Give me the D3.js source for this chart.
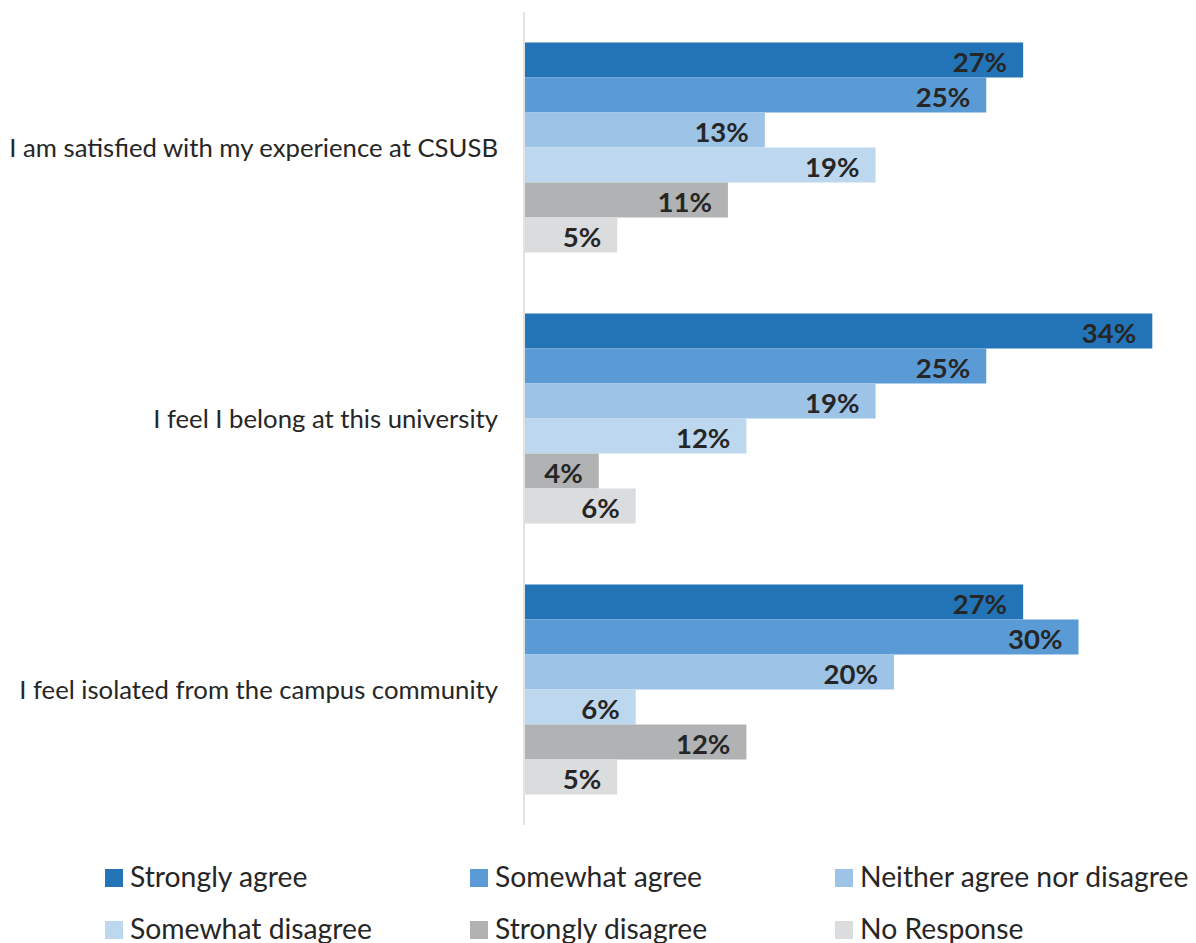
<!DOCTYPE html>
<html>
<head>
<meta charset="utf-8">
<script src="https://cdn.jsdelivr.net/npm/d3@7"></script>
<style>
  html, body { margin: 0; padding: 0; background: #fff; }
  svg { display: block; font-family: Lato, "Open Sans", sans-serif; }
</style>
</head>
<body>
<svg id="chart" width="1196" height="943"></svg>
<script>
// Survey statements (one group of bars each)
const statements = [
  "I am satisfied with my experience at CSUSB",
  "I feel I belong at this university",
  "I feel isolated from the campus community"
];

// Response options, in drawing order within a group
const responses = [
  "Strongly agree",
  "Somewhat agree",
  "Neither agree nor disagree",
  "Somewhat disagree",
  "Strongly disagree",
  "No Response"
];

// Percent of respondents per response, one array per statement
const satisfiedValues = [27, 25, 13, 19, 11, 5];
const belongValues    = [34, 25, 19, 12, 4, 6];
const isolatedValues  = [27, 30, 20, 6, 12, 5];

const responseColors = ["#2274B7", "#5B9BD5", "#9DC3E6", "#BDD7EE", "#B1B2B4", "#DBDCDE"];

const seriesByStatement = [satisfiedValues, belongValues, isolatedValues];

const rows = statements.map((s, i) => ({
  statement: s,
  values: responses.map((r, j) => ({ response: r, value: seriesByStatement[i][j] }))
}));

const svg = d3.select("#chart");
const textColor = "#262626";

// Scales
const x = d3.scaleLinear().domain([0, 35]).range([525, 1170.75]);
const y = d3.scaleBand().domain(statements).range([12, 825])
  .paddingInner(0.225).paddingOuter(0.1125);
const yInner = d3.scaleBand().domain(responses).range([0, y.bandwidth()]);
const color = d3.scaleOrdinal().domain(responses).range(responseColors);

// Bars
const groups = svg.selectAll("g.group").data(rows).join("g")
  .attr("class", "group")
  .attr("transform", d => `translate(0,${y(d.statement)})`);

groups.selectAll("rect").data(d => d.values).join("rect")
  .attr("x", x(0))
  .attr("y", d => yInner(d.response))
  .attr("width", d => x(d.value) - x(0))
  .attr("height", yInner.bandwidth())
  .attr("fill", d => color(d.response));

// Value labels, right-aligned inside each bar
groups.selectAll("text.val").data(d => d.values).join("text")
  .attr("class", "val")
  .attr("x", d => x(d.value) - 16)
  .attr("y", d => yInner(d.response) + yInner.bandwidth() / 2)
  .attr("dy", "0.42em")
  .attr("text-anchor", "end")
  .attr("font-size", 27.5)
  .attr("font-weight", "bold")
  .attr("fill", textColor)
  .text(d => d.value + "%");

// Category axis on the left (line + labels, no ticks)
const yAxis = d3.axisLeft(y).tickSize(0).tickPadding(26);
const axisG = svg.append("g")
  .attr("transform", `translate(${x(0) - 1},0)`)
  .call(yAxis);
axisG.select(".domain").attr("stroke", "#D9D9D9").attr("stroke-width", 1.5)
  .attr("d", `M0,12V825`);
axisG.selectAll(".tick text")
  .attr("font-family", "Lato, 'Open Sans', sans-serif")
  .attr("font-size", 25.7)
  .attr("fill", textColor)
  .attr("dy", "0.36em");

// Legend: two rows of three
const legendX = d3.scalePoint().domain([0, 1, 2]).range([105, 835]);
const legendY = d3.scalePoint().domain([0, 1]).range([869, 921]);

const legend = svg.append("g").selectAll("g").data(responses).join("g")
  .attr("transform", (d, i) => `translate(${legendX(i % 3)},${legendY(Math.floor(i / 3))})`);

legend.append("rect")
  .attr("width", 18).attr("height", 18)
  .attr("fill", d => color(d));

legend.append("text")
  .attr("x", 25)
  .attr("y", 17.5)
  .attr("font-size", 28.3)
  .attr("fill", textColor)
  .text(d => d);
</script>
</body>
</html>
